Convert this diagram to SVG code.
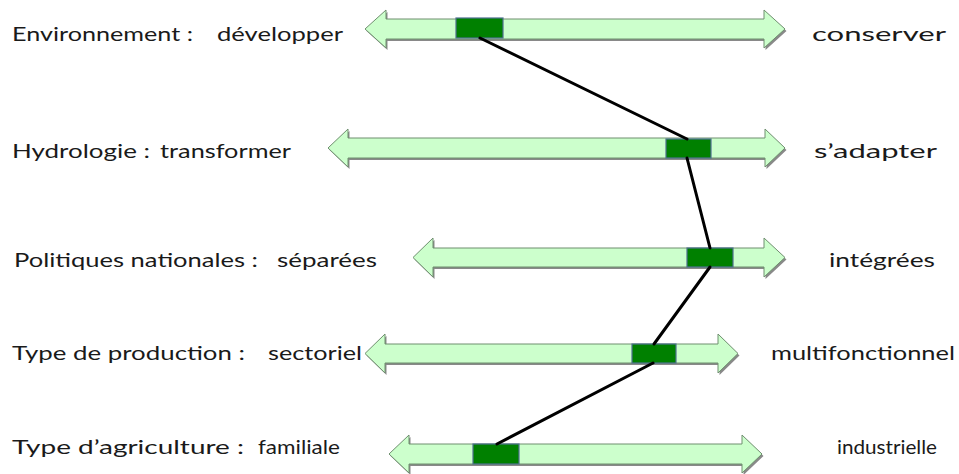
<svg xmlns="http://www.w3.org/2000/svg" width="959" height="474" viewBox="0 0 959 474">
<defs>
<style>
.sh{fill:#6b6b6b;opacity:0.8}
.ar{fill:#ccffcc;stroke:#6f8f6f;stroke-width:1}
.bx{fill:#008000;stroke:#4f7090;stroke-width:1.2}
.t{font-family:Lato,"Liberation Sans",Arial,sans-serif;font-size:20px;fill:#1a1a1a}
.c{stroke:#000;stroke-width:3;fill:none;stroke-linecap:round}
</style>
</defs>
<rect width="959" height="474" fill="#fff"/>
<g id="row1">
<path class="sh" transform="translate(1.5,2)" d="M365,29 L386,10 L386,19 L764,19 L764,10 L785,29 L764,48 L764,39 L386,39 L386,48 Z"/>
<path class="ar" d="M365,29 L386,10 L386,19 L764,19 L764,10 L785,29 L764,48 L764,39 L386,39 L386,48 Z"/>
<rect class="bx" x="456" y="18" width="47" height="20"/>
<text class="t" x="12" y="41" textLength="181" lengthAdjust="spacingAndGlyphs">Environnement :</text>
<text class="t" x="217" y="41" textLength="126" lengthAdjust="spacingAndGlyphs">développer</text>
<text class="t" x="812" y="41" textLength="134" lengthAdjust="spacingAndGlyphs">conserver</text>
</g>
<g id="row2">
<path class="sh" transform="translate(1.5,2)" d="M328,148 L348,129 L348,138 L765,138 L765,129 L785,148 L765,167 L765,158 L348,158 L348,167 Z"/>
<path class="ar" d="M328,148 L348,129 L348,138 L765,138 L765,129 L785,148 L765,167 L765,158 L348,158 L348,167 Z"/>
<rect class="bx" x="666" y="139" width="45" height="19"/>
<text class="t" x="12" y="158" textLength="138" lengthAdjust="spacingAndGlyphs">Hydrologie :</text>
<text class="t" x="160" y="158" textLength="131" lengthAdjust="spacingAndGlyphs">transformer</text>
<text class="t" x="814" y="158" textLength="123" lengthAdjust="spacingAndGlyphs">s’adapter</text>
</g>
<g id="row3">
<path class="sh" transform="translate(1.5,2)" d="M413,257.5 L433,238 L433,248 L764,248 L764,238 L785,257.5 L764,277 L764,267 L433,267 L433,277 Z"/>
<path class="ar" d="M413,257.5 L433,238 L433,248 L764,248 L764,238 L785,257.5 L764,277 L764,267 L433,267 L433,277 Z"/>
<rect class="bx" x="687" y="248" width="46" height="19"/>
<text class="t" x="14" y="267" textLength="244" lengthAdjust="spacingAndGlyphs">Politiques nationales :</text>
<text class="t" x="277" y="267" textLength="100" lengthAdjust="spacingAndGlyphs">séparées</text>
<text class="t" x="829" y="267" textLength="106" lengthAdjust="spacingAndGlyphs">intégrées</text>
</g>
<g id="row4">
<path class="sh" transform="translate(1.5,2)" d="M365,353.5 L385,334 L385,344 L718,344 L718,334 L738,353.5 L718,373 L718,363 L385,363 L385,373 Z"/>
<path class="ar" d="M365,353.5 L385,334 L385,344 L718,344 L718,334 L738,353.5 L718,373 L718,363 L385,363 L385,373 Z"/>
<rect class="bx" x="632" y="344" width="44" height="19"/>
<text class="t" x="12" y="360" textLength="233" lengthAdjust="spacingAndGlyphs">Type de production :</text>
<text class="t" x="268" y="360" textLength="94" lengthAdjust="spacingAndGlyphs">sectoriel</text>
<text class="t" x="771" y="360" textLength="184" lengthAdjust="spacingAndGlyphs">multifonctionnel</text>
</g>
<g id="row5">
<path class="sh" transform="translate(1.5,2)" d="M389,454 L409,435 L409,444 L742,444 L742,435 L762,454 L742,473 L742,464 L409,464 L409,473 Z"/>
<path class="ar" d="M389,454 L409,435 L409,444 L742,444 L742,435 L762,454 L742,473 L742,464 L409,464 L409,473 Z"/>
<rect class="bx" x="473" y="444" width="46" height="20"/>
<text class="t" x="12" y="454" textLength="232" lengthAdjust="spacingAndGlyphs">Type d’agriculture :</text>
<text class="t" x="258" y="454" textLength="82" lengthAdjust="spacingAndGlyphs">familiale</text>
<text class="t" x="837" y="454" textLength="100" lengthAdjust="spacingAndGlyphs">industrielle</text>
</g>
<g id="connectors">
<line class="c" x1="480" y1="38" x2="687" y2="139"/>
<line class="c" x1="687" y1="158" x2="710" y2="248"/>
<line class="c" x1="710" y1="267" x2="654" y2="344"/>
<line class="c" x1="653" y1="363" x2="497" y2="444"/>
</g>
</svg>
